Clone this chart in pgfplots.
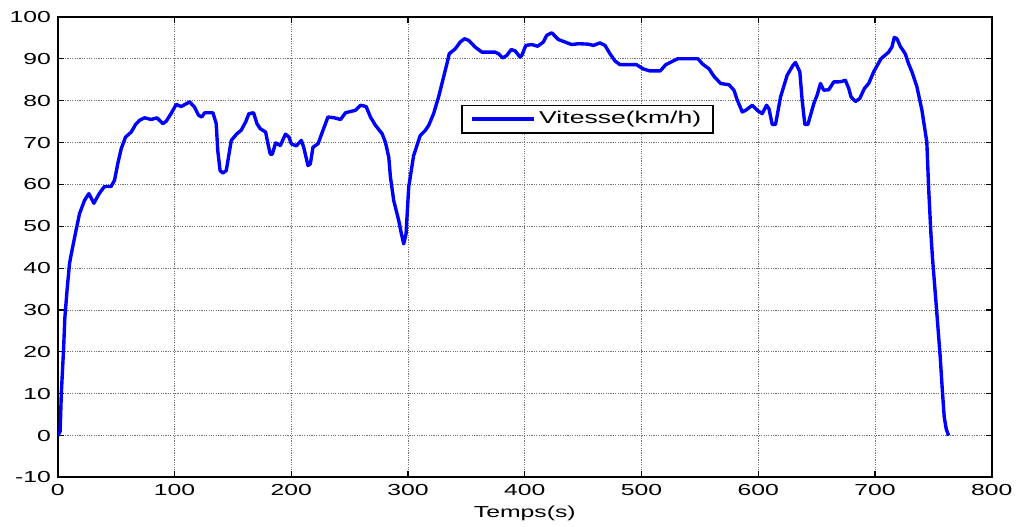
\documentclass[border=0pt]{standalone}
\usepackage{fontspec}
\setmainfont{Liberation Sans}[FakeStretch=1.55]
\usepackage{pgfplots}
\pgfplotsset{compat=1.18}

\begin{document}
\begin{tikzpicture}
\begin{axis}[
  scale only axis, width=468.5pt, height=231pt,
  xmin=0, xmax=800, ymin=-10, ymax=100,
  xtick={0,100,...,800}, ytick={-10,0,...,100},
  grid=major,
  major grid style={black!55, line width=0.4pt, dash pattern=on 0.6pt off 0.6pt},
  axis line style={black, line width=1pt},
  tick align=inside, major tick length=3pt,
  tick style={black, line width=0.6pt},
  ticklabel style={font=\fontsize{8}{9}\selectfont},
  /pgf/number format/assume math mode=true,
  xlabel={Temps(s)},
  xlabel style={font=\fontsize{8}{9}\selectfont, yshift=2pt},
  legend style={at={(0.432,0.8095)}, anchor=north west, draw=black,
    line width=0.8pt, font=\fontsize{8.6}{9}\selectfont,
    inner xsep=4pt, inner ysep=1pt},
  legend cell align=left,
  legend image code/.code={\draw[#1] (0pt,0pt) -- (31pt,0pt);},
]
\addplot[blue, line width=1.7pt, line join=round] coordinates {
(0,0) (2,1) (3,10) (5,21) (6,28) (8,35) (10,41) (11,42.6) (15,48.2)
(18.6,53) (22.9,56.2) (26.6,57.8) (30.9,55.5) (35.7,57.9) (40,59.5)
(45.7,59.5) (48.6,61) (51.4,65) (54.3,68.5) (58,71.3) (62.9,72.5)
(66.6,74.3) (70,75.3) (74.3,75.9) (80,75.5) (84.9,75.9) (90,74.5)
(92.9,75.1) (97,76.9) (101.4,79.1) (105.7,78.6) (112.9,79.7) (117,78.5)
(120.6,76.5) (123.4,76.1) (125.7,77.1) (132.9,77.1) (135.7,74.5)
(137,68.1) (139,63.3) (141.4,62.7) (144.3,63.3) (148.6,70.5) (153.4,72.1)
(157,72.9) (160.9,74.9) (163.7,76.9) (167.7,77.1) (170.6,74.5)
(173.4,73.3) (178,72.5) (180,69.7) (182,67.2) (183.7,67.2) (186.6,69.9)
(190.6,69.3) (195,72) (198,71.3) (200,69.7) (204.3,69.2) (208.6,70.5)
(210.6,68.9) (214.3,64.5) (216.3,64.9) (218.6,68.9) (222.9,69.7)
(226.6,72.5) (231.4,76.1) (237,75.9) (242.2,75.5) (246.4,77.1) (255,77.7)
(259.3,78.9) (264.1,78.6) (267.8,76.1) (272.1,74.1) (277.8,72.1)
(280.6,70.1) (283.5,66.5) (284.9,61.8) (287.7,56.2) (292,51.4)
(294.3,48.2) (296.3,45.8) (298.3,48.2) (300.6,59.4) (304.8,66.9)
(310.5,71.7) (314.8,72.9) (317.7,74.1) (321.9,76.9) (326.2,80.9)
(330.5,85.7) (333.3,88.8) (335.3,91.2) (340.5,92.4) (344.7,94)
(348.4,94.8) (351.9,94.4) (357.5,92.8) (363.2,91.6) (374.6,91.6)
(377.5,91.2) (381.2,90.2) (384.6,90.8) (388.3,92.2) (391.7,91.9)
(396,90.4) (397.4,90.8) (400.9,93.2) (406,93.4) (411.1,93) (415.9,94)
(418.8,95.6) (423.1,96.2) (428.8,94.6) (434.5,94) (440.2,93.4)
(445.9,93.6) (454.4,93.5) (458.7,93.2) (464.4,93.8) (468.7,93.2)
(473,91.2) (477.2,89.5) (481.5,88.6) (495.7,88.6) (501.4,87.6)
(507.1,87.1) (516,87.1) (520.8,88.6) (525.1,89.2) (530.8,90) (548.4,90)
(552.1,88.8) (557.8,87.6) (562.1,85.8) (567.8,84.1) (574.9,83.8)
(579.2,82.5) (582.1,80.1) (586.3,77.3) (589.2,77.7) (594.9,78.9)
(599.1,77.7) (603.4,76.9) (607.1,78.9) (609.1,78.1) (612,74.3)
(614.8,74.3) (619.1,80.9) (624.8,86.1) (629.9,88.5) (631.9,89.1)
(635.6,86.9) (637.6,80.1) (639.9,74.3) (642.5,74.3) (647.6,79.3)
(650.4,81.3) (653.3,84.1) (656.1,82.5) (660.4,82.6) (664.7,84.5)
(669,84.5) (671.8,84.6) (674.6,84.9) (677.5,82.9) (679.5,80.9)
(683.2,79.8) (686.9,80.5) (690.9,82.9) (694.6,84.1) (698.9,86.9)
(705.1,90) (711.7,91.6) (714.5,92.8) (716.5,95.1) (718.8,94.8)
(721.6,93) (725.9,91.2) (728.8,88.8) (731.6,86.9) (735.9,83.3)
(740.2,77.7) (744.4,70.1) (745.9,59.4) (747.9,48.2) (749.3,42.2)
(752.4,31.3) (755.8,19) (757.8,10.3) (759.3,4.4) (761,1.6) (763,0)
};
\addlegendentry{Vitesse(km/h)}
\end{axis}
\path ([shift={(-29pt,-20pt)}]current axis.south west) rectangle ([shift={(12pt,8.5pt)}]current axis.north east);
\end{tikzpicture}
\end{document}
